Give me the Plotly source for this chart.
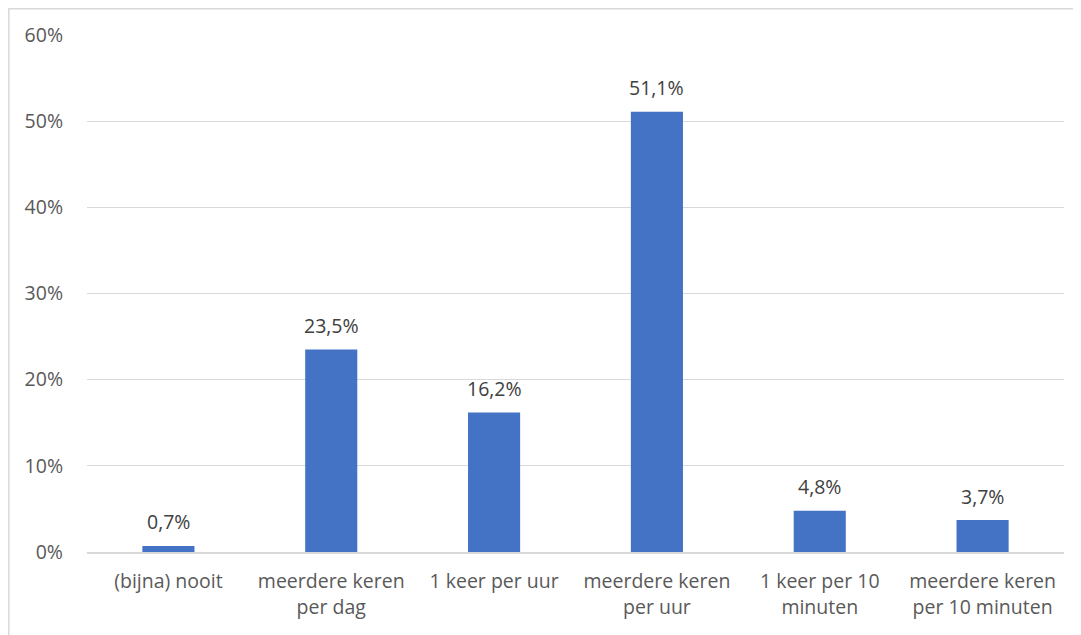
import plotly.graph_objects as go

categories = ["(bijna) nooit", "meerdere keren<br>per dag", "1 keer per uur",
              "meerdere keren<br>per uur", "1 keer per 10<br>minuten", "meerdere keren<br>per 10 minuten"]
values = [0.7, 23.5, 16.2, 51.1, 4.8, 3.7]
labels = [f"{v:.1f}%".replace(".", ",") for v in values]
y_ticks = [0, 10, 20, 30, 40, 50, 60]
y_ticktext = [f"{t}%" for t in y_ticks]

FONT = "Open Sans"
FS = 19.5
L, T, PW, PH = 79, 27, 977, 517
fig = go.Figure(go.Bar(
    x=categories, y=values,
    marker=dict(color="#4472C4", line=dict(width=0)),
    width=0.32, hoverinfo="skip"))

for c, v, lab in zip(categories, values, labels):
    fig.add_annotation(x=c, y=v, text=lab, showarrow=False, yanchor="middle",
                       yshift=24, font=dict(family=FONT, size=FS, color="#404040"))

fig.update_layout(
    width=1081, height=635, paper_bgcolor="white", plot_bgcolor="white",
    margin=dict(l=L, r=1081 - L - PW, t=T, b=635 - T - PH, autoexpand=False),
    showlegend=False,
    font=dict(family=FONT, size=FS, color="#595959"),
    xaxis=dict(showgrid=False, showline=True, linecolor="#d9d9d9", linewidth=1.5,
               ticks="", tickfont=dict(size=FS, color="#595959"), ticklabelstandoff=11,
               automargin=False),
    yaxis=dict(range=[0, 60], tickvals=y_ticks, ticktext=y_ticktext, showgrid=True,
               gridcolor="#d9d9d9", gridwidth=1.3, zeroline=False, showline=False,
               tickfont=dict(size=FS, color="#595959"), ticklabelstandoff=23,
               automargin=False),
    shapes=[dict(type="rect", xref="paper", yref="paper",
                 x0=(0.8 - L) / PW, x1=(1100 - L) / PW,
                 y0=(PH + T - 660) / PH, y1=1 + (T - 0.8) / PH,
                 line=dict(color="#d9d9d9", width=1.5), fillcolor="rgba(0,0,0,0)", layer="below")],
)
fig.write_html("out.html")
